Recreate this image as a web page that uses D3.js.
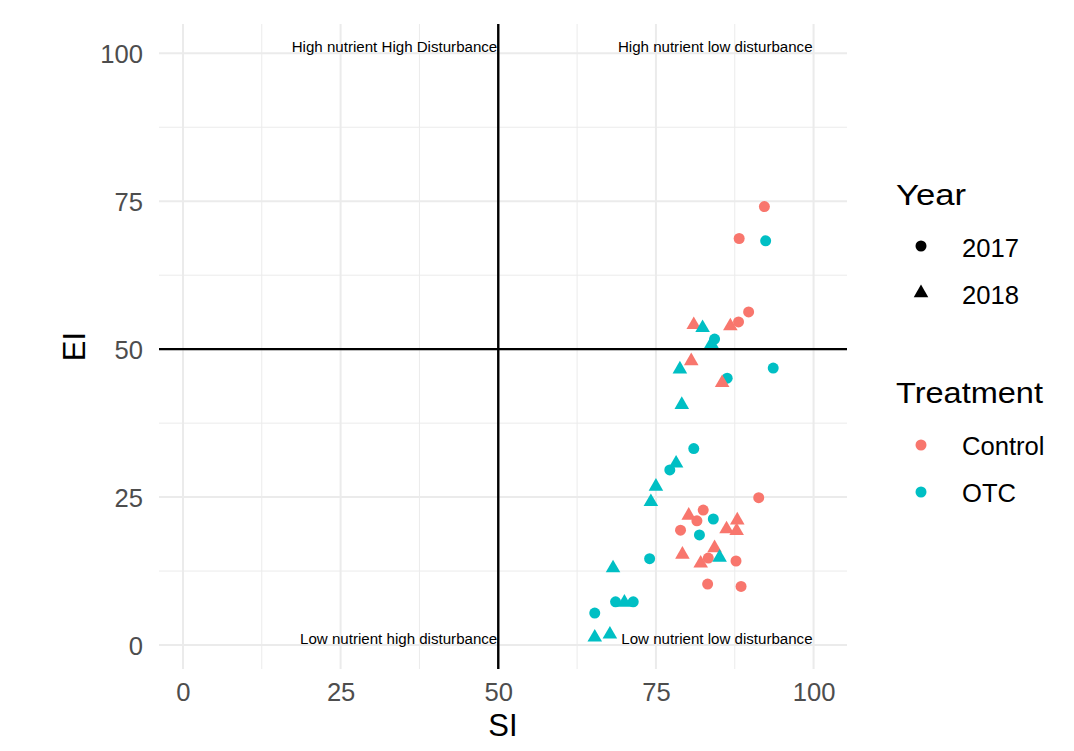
<!DOCTYPE html>
<html>
<head>
<meta charset="utf-8">
<script src="https://cdn.jsdelivr.net/npm/d3@7"></script>
<style>
  html, body { margin: 0; padding: 0; background: #ffffff; }
  svg { display: block; font-family: "Liberation Sans", Arial, sans-serif; }
</style>
</head>
<body>
<svg id="chart" width="1074" height="751"></svg>
<script>
// ---- Data ----
const controlSI2017 = [92.2, 88.2, 89.7, 88.1, 91.3, 82.5, 81.5, 78.9, 83.3, 87.7, 83.2, 88.5];
const controlEI2017 = [74.1, 68.7, 56.3, 54.6, 24.9, 22.8, 21.0, 19.4, 14.7, 14.2, 10.3, 9.9];
const otcSI2017     = [92.4, 84.3, 93.6, 86.3, 81.0, 77.2, 84.1, 81.9, 74.0, 68.6, 71.4, 65.3];
const otcEI2017     = [68.3, 51.7, 46.8, 45.1, 33.2, 29.6, 21.3, 18.6, 14.6, 7.3, 7.3, 5.4];
const controlSI2018 = [81.0, 86.8, 80.6, 85.5, 80.2, 87.9, 86.2, 87.8, 84.3, 79.2, 82.1];
const controlEI2018 = [54.1, 53.9, 48.0, 44.3, 21.9, 21.1, 19.6, 19.3, 16.4, 15.3, 13.8];
const otcSI2018     = [82.4, 83.8, 78.8, 79.1, 78.2, 75.0, 74.2, 85.1, 68.2, 70.0, 65.3, 67.7];
const otcEI2018     = [53.6, 50.9, 46.6, 40.6, 30.7, 26.8, 24.2, 14.8, 13.0, 7.2, 1.3, 1.8];

const xTicks = [0, 25, 50, 75, 100];
const yTicks = [0, 25, 50, 75, 100];
const xMinor = [12.5, 37.5, 62.5, 87.5];
const yMinor = [12.5, 37.5, 62.5, 87.5];
const years = ["2017", "2018"];
const treatments = ["Control", "OTC"];
const refSI = 50, refEI = 50;
const annotations = [
  { label: "High nutrient High Disturbance", si: 50, ei: 100 },
  { label: "High nutrient low disturbance", si: 100, ei: 100 },
  { label: "Low nutrient high disturbance", si: 50, ei: 0 },
  { label: "Low nutrient low disturbance", si: 100, ei: 0 }
];

function rows(si, ei, treatment, year) {
  return si.map((v, i) => ({ si: v, ei: ei[i], treatment, year }));
}
const points = [].concat(
  rows(controlSI2017, controlEI2017, "Control", "2017"),
  rows(otcSI2017, otcEI2017, "OTC", "2017"),
  rows(controlSI2018, controlEI2018, "Control", "2018"),
  rows(otcSI2018, otcEI2018, "OTC", "2018")
);

// ---- Layout ----
const panel = { left: 159, right: 847, top: 24, bottom: 669 };
const svg = d3.select("#chart");

const x = d3.scaleLinear().domain([-3.8, 105.3]).range([panel.left, panel.right]);
const y = d3.scaleLinear().domain([-4.05, 104.95]).range([panel.bottom, panel.top]);
const color = d3.scaleOrdinal().domain(treatments).range(["#F8766D", "#00BFC4"]);
const shape = d3.scaleOrdinal().domain(years).range([d3.symbolCircle, d3.symbolTriangle]);
const shapeSize = d3.scaleOrdinal().domain(years).range([95, 92]);

// ---- Grid ----
const grid = svg.append("g");
grid.selectAll(".xminor").data(xMinor).join("line")
  .attr("x1", d => x(d)).attr("x2", d => x(d))
  .attr("y1", panel.top).attr("y2", panel.bottom)
  .attr("stroke", "#EBEBEB").attr("stroke-width", 1);
grid.selectAll(".yminor").data(yMinor).join("line")
  .attr("y1", d => y(d)).attr("y2", d => y(d))
  .attr("x1", panel.left).attr("x2", panel.right)
  .attr("stroke", "#EBEBEB").attr("stroke-width", 1);
grid.selectAll(".xmajor").data(xTicks).join("line")
  .attr("x1", d => x(d)).attr("x2", d => x(d))
  .attr("y1", panel.top).attr("y2", panel.bottom)
  .attr("stroke", "#EBEBEB").attr("stroke-width", 2);
grid.selectAll(".ymajor").data(yTicks).join("line")
  .attr("y1", d => y(d)).attr("y2", d => y(d))
  .attr("x1", panel.left).attr("x2", panel.right)
  .attr("stroke", "#EBEBEB").attr("stroke-width", 2);

// ---- Axes (labels only, like theme_minimal) ----
const xAxis = svg.append("g")
  .attr("transform", `translate(0,${panel.bottom})`)
  .call(d3.axisBottom(x).tickValues(xTicks).tickSize(0).tickPadding(0).tickFormat(d3.format("d")));
xAxis.select(".domain").remove();
xAxis.selectAll("text")
  .attr("y", 32).attr("dy", 0)
  .attr("font-size", 25.6).attr("fill", "#4D4D4D")
  .attr("font-family", "Liberation Sans, Arial, sans-serif");

const yAxis = svg.append("g")
  .attr("transform", `translate(${panel.left},0)`)
  .call(d3.axisLeft(y).tickValues(yTicks).tickSize(0).tickPadding(0).tickFormat(d3.format("d")));
yAxis.select(".domain").remove();
yAxis.selectAll("text")
  .attr("x", -16).attr("dy", "0.36em")
  .attr("font-size", 25.6).attr("fill", "#4D4D4D")
  .attr("font-family", "Liberation Sans, Arial, sans-serif");

// ---- Reference lines ----
svg.append("line")
  .attr("x1", panel.left).attr("x2", panel.right)
  .attr("y1", y(refEI)).attr("y2", y(refEI))
  .attr("stroke", "#000").attr("stroke-width", 2.4);
svg.append("line")
  .attr("x1", x(refSI)).attr("x2", x(refSI))
  .attr("y1", panel.top).attr("y2", panel.bottom)
  .attr("stroke", "#000").attr("stroke-width", 2.4);

// ---- Annotations ----
svg.append("g").selectAll("text").data(annotations).join("text")
  .attr("x", d => x(d.si) - 1)
  .attr("y", d => y(d.ei) - 1.2)
  .attr("text-anchor", "end")
  .attr("font-size", 15.1)
  .attr("fill", "#000")
  .text(d => d.label);

// ---- Points ----
svg.append("g").selectAll("path").data(points).join("path")
  .attr("transform", d => `translate(${x(d.si)},${y(d.ei)})`)
  .attr("d", d => d3.symbol().type(shape(d.year)).size(shapeSize(d.year))())
  .attr("fill", d => color(d.treatment));

// ---- Axis titles ----
svg.append("text")
  .attr("x", (panel.left + panel.right) / 2).attr("y", 736)
  .attr("text-anchor", "middle").attr("font-size", 31).attr("fill", "#000")
  .text("SI");
svg.append("text")
  .attr("transform", `translate(85,${(panel.top + panel.bottom) / 2}) rotate(-90)`)
  .attr("text-anchor", "middle").attr("font-size", 31).attr("fill", "#000")
  .text("EI");

// ---- Legends ----
const leg = svg.append("g");
leg.append("text").attr("x", 896).attr("y", 205)
  .attr("font-size", 29).attr("textLength", 70).attr("lengthAdjust", "spacingAndGlyphs")
  .attr("fill", "#000").text("Year");
const yearKeyY = [246, 293];
years.forEach((yr, i) => {
  leg.append("path")
    .attr("transform", `translate(921,${yearKeyY[i]})`)
    .attr("d", d3.symbol().type(shape(yr)).size(shapeSize(yr))())
    .attr("fill", "#000");
  leg.append("text").attr("x", 962).attr("y", yearKeyY[i] + 11)
    .attr("font-size", 25.6).attr("fill", "#000").text(yr);
});

leg.append("text").attr("x", 896).attr("y", 403)
  .attr("font-size", 29).attr("textLength", 147).attr("lengthAdjust", "spacingAndGlyphs")
  .attr("fill", "#000").text("Treatment");
const trtKeyY = [445, 492];
treatments.forEach((t, i) => {
  leg.append("path")
    .attr("transform", `translate(921,${trtKeyY[i]})`)
    .attr("d", d3.symbol().type(d3.symbolCircle).size(95)())
    .attr("fill", color(t));
  leg.append("text").attr("x", 962).attr("y", trtKeyY[i] + 10)
    .attr("font-size", 25.6).attr("fill", "#000").text(t);
});
</script>
</body>
</html>
